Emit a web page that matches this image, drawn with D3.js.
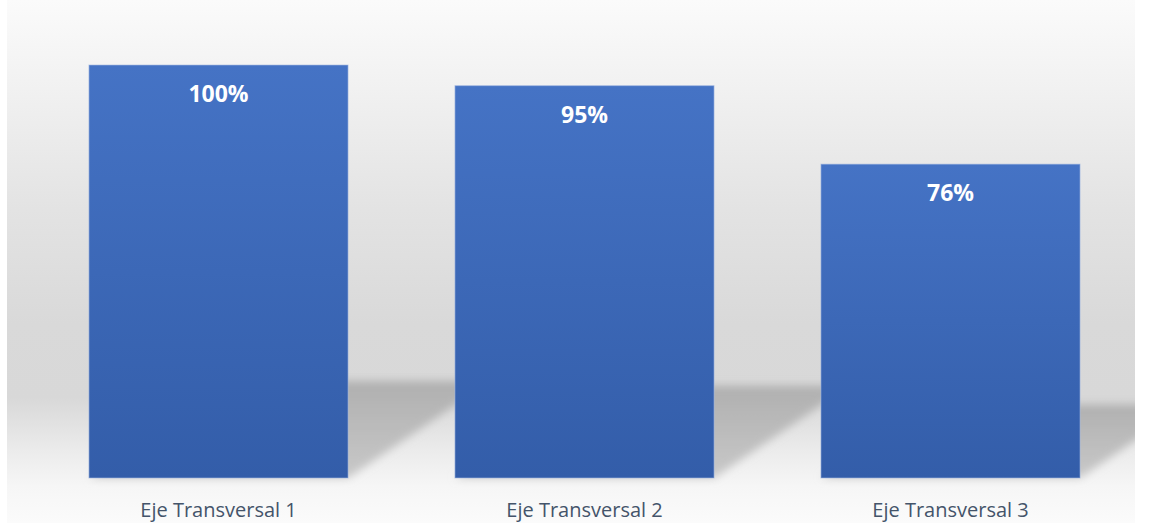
<!DOCTYPE html>
<html>
<head>
<meta charset="utf-8">
<script src="https://cdn.jsdelivr.net/npm/d3@7"></script>
<style>
    html, body { margin: 0; padding: 0; background: #ffffff; }
    svg { display: block; }
</style>
</head>
<body>
<div id="chart"></div>
<script>
// data
var categories = ["Eje Transversal 1", "Eje Transversal 2", "Eje Transversal 3"];
var values = [100, 95, 76];
var valueLabels = ["100%", "95%", "76%"];

var width = 1150;
var height = 523;

var config = {
    areaLeft: 7,
    areaRight: 1135,
    plotTop: 65,
    plotBottom: 478,
    rangeLeft: 35.5,
    rangeRight: 1133.5,
    barPadding: 0.292,
    shadowScale: 0.235,
    shadowSkew: 1.47,
    labelFont: "'Open Sans', 'DejaVu Sans', sans-serif"
};

var svg = d3
    .select("#chart")
    .append("svg")
    .attr("width", width)
    .attr("height", height);

var defs = svg.append("defs");

// chart area background: light at top, grey band, light again at bottom
var bg = defs.append("linearGradient").attr("id", "bgGrad").attr("x1", 0).attr("y1", 0).attr("x2", 0).attr("y2", 1);
[
    [0, "#fbfbfb"],
    [0.12, "#f4f4f4"],
    [0.4, "#e3e3e3"],
    [0.62, "#d9d9d9"],
    [0.76, "#d8d8d8"],
    [0.86, "#ebebeb"],
    [0.93, "#f6f6f6"],
    [1, "#fbfbfb"]
].forEach(function (s) {
    bg.append("stop").attr("offset", s[0]).attr("stop-color", s[1]);
});

var barGrad = defs.append("linearGradient").attr("id", "barGrad").attr("x1", 0).attr("y1", 0).attr("x2", 0).attr("y2", 1);
barGrad.append("stop").attr("offset", 0).attr("stop-color", "#4573c5");
barGrad.append("stop").attr("offset", 1).attr("stop-color", "#335da9");

var shadowGrad = defs.append("linearGradient").attr("id", "shadowGrad").attr("x1", 0).attr("y1", 0).attr("x2", 0).attr("y2", 1);
shadowGrad.append("stop").attr("offset", 0).attr("stop-color", "#acacac").attr("stop-opacity", 0.9);
shadowGrad.append("stop").attr("offset", 1).attr("stop-color", "#c4c4c4").attr("stop-opacity", 0.9);

var blur = defs.append("filter").attr("id", "shadowBlur").attr("x", "-20%").attr("y", "-30%").attr("width", "140%").attr("height", "160%");
blur.append("feGaussianBlur").attr("stdDeviation", 4);

defs.append("clipPath")
    .attr("id", "areaClip")
    .append("rect")
    .attr("x", config.areaLeft)
    .attr("y", 0)
    .attr("width", config.areaRight - config.areaLeft)
    .attr("height", height);

svg.append("rect")
    .attr("x", config.areaLeft)
    .attr("y", 0)
    .attr("width", config.areaRight - config.areaLeft)
    .attr("height", height)
    .attr("fill", "url(#bgGrad)");

var x = d3
    .scaleBand()
    .domain(categories)
    .range([config.rangeLeft, config.rangeRight])
    .paddingInner(config.barPadding)
    .paddingOuter(config.barPadding / 2);

var y = d3.scaleLinear().domain([0, 100]).range([config.plotBottom, config.plotTop]);

var rows = categories.map(function (c, i) {
    return { cat: c, value: values[i], label: valueLabels[i] };
});

// perspective shadow: bar flattened onto the floor and skewed to the right
function shadowPath(d) {
    var x0 = x(d.cat);
    var x1 = x0 + x.bandwidth();
    var base = y(0);
    var hs = (base - y(d.value)) * config.shadowScale;
    var dx = hs * config.shadowSkew;
    return d3.line()([
        [x0, base],
        [x1, base],
        [x1 + dx, base - hs],
        [x0 + dx, base - hs]
    ]) + "Z";
}

svg.append("g")
    .attr("class", "shadows")
    .attr("clip-path", "url(#areaClip)")
    .selectAll("path")
    .data(rows)
    .enter()
    .append("path")
    .attr("d", shadowPath)
    .attr("fill", "url(#shadowGrad)")
    .attr("filter", "url(#shadowBlur)");

svg.append("g")
    .attr("class", "bars")
    .selectAll("rect")
    .data(rows)
    .enter()
    .append("rect")
    .attr("x", function (d) { return x(d.cat); })
    .attr("y", function (d) { return y(d.value); })
    .attr("width", x.bandwidth())
    .attr("height", function (d) { return y(0) - y(d.value); })
    .attr("fill", "url(#barGrad)")
    .attr("stroke", "#a9bde3")
    .attr("stroke-opacity", 0.6)
    .attr("stroke-width", 1);

svg.append("g")
    .attr("class", "valueLabels")
    .selectAll("text")
    .data(rows)
    .enter()
    .append("text")
    .attr("x", function (d) { return x(d.cat) + x.bandwidth() / 2; })
    .attr("y", function (d) { return y(d.value) + 37; })
    .attr("text-anchor", "middle")
    .attr("font-family", config.labelFont)
    .attr("font-weight", "bold")
    .attr("font-size", 23)
    .attr("fill", "#ffffff")
    .text(function (d) { return d.label; });

var xAxis = d3.axisBottom(x).tickSize(0).tickPadding(0);
var axisG = svg.append("g")
    .attr("class", "xAxis")
    .attr("transform", "translate(0," + (config.plotBottom + 25) + ")")
    .call(xAxis);
axisG.select(".domain").remove();
axisG.selectAll("text")
    .attr("font-family", config.labelFont)
    .attr("font-size", 20)
    .attr("fill", "#44546a")
    .attr("dy", "0.71em")
    .attr("y", 0);
</script>
</body>
</html>
